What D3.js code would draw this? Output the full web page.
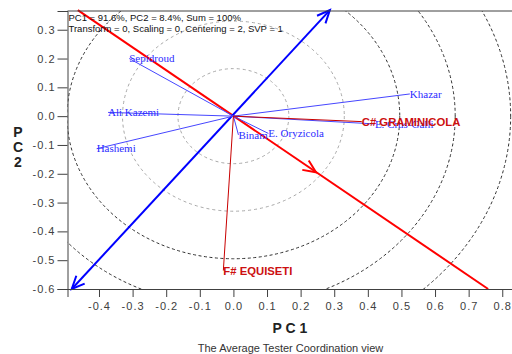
<!DOCTYPE html>
<html>
<head>
<meta charset="utf-8">
<script src="https://cdn.jsdelivr.net/npm/d3@7"></script>
<style>
  body { margin: 0; background: #fff; }
  svg { display: block; }
</style>
</head>
<body>
<div id="chart"></div>
<script>
// ── data ──
const genotypes = ["Sepidroud", "Ali Kazemi", "Hashemi", "Binam", "E. Oryzicola", "E. Crus-Galli", "Khazar"];
const genoPC1 = [-0.31, -0.373, -0.407, 0.015, 0.104, 0.421, 0.525];
const genoPC2 = [0.2, 0.013, -0.113, -0.065, -0.06, -0.027, 0.077];

const testers = ["C# GRAMINICOLA", "F# EQUISETI"];
const testerPC1 = [0.382, -0.03];
const testerPC2 = [-0.019, -0.536];

const ringRadii = [0.165, 0.33, 0.495, 0.66, 0.825];

// average tester axis (red) and its perpendicular (blue)
const atcAbscissa = [[-0.463, 0.368], [0.758, -0.6]];
const atcArrow = [0.246, -0.195];
const atcOrdinate = [[-0.481, -0.6], [0.287, 0.368]];

const xTicks = [-0.4, -0.3, -0.2, -0.1, 0, 0.1, 0.2, 0.3, 0.4, 0.5, 0.6, 0.7, 0.8];
const xTickLabels = ["-0.4", "-0.3", "-0.2", "-0.1", "0.0", "0.1", "0.2", "0.3", "0.4", "0.5", "0.6", "0.7", "0.8"];
const yTicks = [0.3, 0.2, 0.1, 0, -0.1, -0.2, -0.3, -0.4, -0.5, -0.6];
const yTickLabels = ["0.3", "0.2", "0.1", "0.0", "-0.1", "-0.2", "-0.3", "-0.4", "-0.5", "-0.6"];

const infoLines = [
  "PC1 = 91.6%, PC2 = 8.4%, Sum = 100%",
  "Transform = 0, Scaling = 0, Centering = 2, SVP = 1",
];

// ── layout ──
const W = 512, H = 354;
const L = 67.5, R = 512, T = 11, B = 289;

const x = d3.scaleLinear().domain([-0.4937, 0.829]).range([L, R]);
const y = d3.scaleLinear().domain([-0.6, 0.365]).range([B, T]);

const svg = d3.select("#chart").append("svg")
  .attr("width", W).attr("height", H)
  .attr("font-family", "'Liberation Sans', Arial, sans-serif");

svg.append("defs").append("clipPath").attr("id", "plot")
  .append("rect").attr("x", L).attr("y", T).attr("width", R - L).attr("height", B - T);

// ── concentric rings ──
svg.append("g").attr("clip-path", "url(#plot)")
  .selectAll("ellipse").data(ringRadii).enter().append("ellipse")
  .attr("cx", x(0)).attr("cy", y(0))
  .attr("rx", (d) => x(d) - x(0))
  .attr("ry", (d) => y(0) - y(d))
  .attr("fill", "none")
  .attr("stroke", (d, i) => (i < 2 ? "#a8a8a8" : "#303030"))
  .attr("stroke-width", 1)
  .attr("stroke-dasharray", (d, i) => (i < 2 ? "3,3" : "3,2.5"));

// ── ATC lines ──
function arrowHead(g, tip, from, color) {
  const dx = tip[0] - from[0], dy = tip[1] - from[1];
  const a = Math.atan2(dy, dx), len = 14, sp = 0.42;
  const p1 = [tip[0] - len * Math.cos(a - sp), tip[1] - len * Math.sin(a - sp)];
  const p2 = [tip[0] - len * Math.cos(a + sp), tip[1] - len * Math.sin(a + sp)];
  g.append("path")
    .attr("d", `M${p1[0]},${p1[1]}L${tip[0]},${tip[1]}L${p2[0]},${p2[1]}`)
    .attr("fill", "none").attr("stroke", color).attr("stroke-width", 2);
}
const line = d3.line().x((d) => x(d[0])).y((d) => y(d[1]));
const atc = svg.append("g");

atc.append("path").attr("d", line(atcAbscissa))
  .attr("fill", "none").attr("stroke", "#ff0000").attr("stroke-width", 2);
arrowHead(atc, [x(atcArrow[0]), y(atcArrow[1])], [x(0), y(0)], "#ff0000");

atc.append("path").attr("d", line(atcOrdinate))
  .attr("fill", "none").attr("stroke", "#0000ff").attr("stroke-width", 2);
atcOrdinate.forEach((p) => arrowHead(atc, [x(p[0]), y(p[1])], [x(0), y(0)], "#0000ff"));

// ── vectors ──
const vec = svg.append("g");
genotypes.forEach((name, i) => {
  vec.append("line")
    .attr("x1", x(0)).attr("y1", y(0))
    .attr("x2", x(genoPC1[i])).attr("y2", y(genoPC2[i]))
    .attr("stroke", "#4646ff").attr("stroke-width", 1);
});
testers.forEach((name, i) => {
  vec.append("line")
    .attr("x1", x(0)).attr("y1", y(0))
    .attr("x2", x(testerPC1[i])).attr("y2", y(testerPC2[i]))
    .attr("stroke", "#c80000").attr("stroke-width", 1);
});

// ── labels ──
genotypes.forEach((name, i) => {
  vec.append("text")
    .attr("x", x(genoPC1[i])).attr("y", y(genoPC2[i]))
    .attr("dy", "0.33em")
    .attr("font-family", "'Liberation Serif', 'Times New Roman', serif")
    .attr("font-size", "11px")
    .attr("fill", "#2c2cff")
    .text(name);
});
testers.forEach((name, i) => {
  vec.append("text")
    .attr("x", x(testerPC1[i])).attr("y", y(testerPC2[i]))
    .attr("dy", "0.36em")
    .attr("font-size", "11.3px")
    .attr("font-weight", "bold")
    .attr("fill", "#cc1010")
    .text(name);
});

// ── axes & frame ──
const yAxis = svg.append("g").attr("transform", `translate(${L},0)`)
  .call(d3.axisLeft(y).tickValues(yTicks).tickSize(10).tickPadding(2)
    .tickFormat((d, i) => yTickLabels[i]));
const xAxis = svg.append("g").attr("transform", `translate(0,${B})`)
  .call(d3.axisBottom(x).tickValues(xTicks).tickSize(8).tickPadding(5)
    .tickFormat((d, i) => xTickLabels[i]));
[xAxis, yAxis].forEach((a) => {
  a.select(".domain").attr("stroke", "#404040");
  a.selectAll(".tick line").attr("stroke", "#404040");
  a.selectAll(".tick text")
    .attr("fill", "#404040")
    .attr("font-size", "11px")
    .attr("letter-spacing", "1px")
    .attr("font-family", "'Liberation Sans', Arial, sans-serif");
});
svg.append("line").attr("x1", L).attr("x2", R).attr("y1", T).attr("y2", T)
  .attr("stroke", "#404040").attr("stroke-width", 1);

// ── texts ──
infoLines.forEach((t, i) => {
  svg.append("text")
    .attr("x", L + 1).attr("y", 20.5 + i * 11)
    .attr("font-size", "9.5px").attr("fill", "#111")
    .text(t);
});

svg.append("text")
  .attr("x", 290).attr("y", 333)
  .attr("text-anchor", "middle")
  .attr("font-size", "14px").attr("font-weight", "bold").attr("fill", "#222")
  .text("P C 1");

["P", "C", "2"].forEach((c, i) => {
  svg.append("text")
    .attr("x", 18).attr("y", 137 + i * 15)
    .attr("text-anchor", "middle")
    .attr("font-size", "14px").attr("font-weight", "bold").attr("fill", "#222")
    .text(c);
});

svg.append("text")
  .attr("x", 290.5).attr("y", 352)
  .attr("text-anchor", "middle")
  .attr("font-size", "11px").attr("fill", "#333")
  .text("The Average Tester Coordination view");
</script>
</body>
</html>
